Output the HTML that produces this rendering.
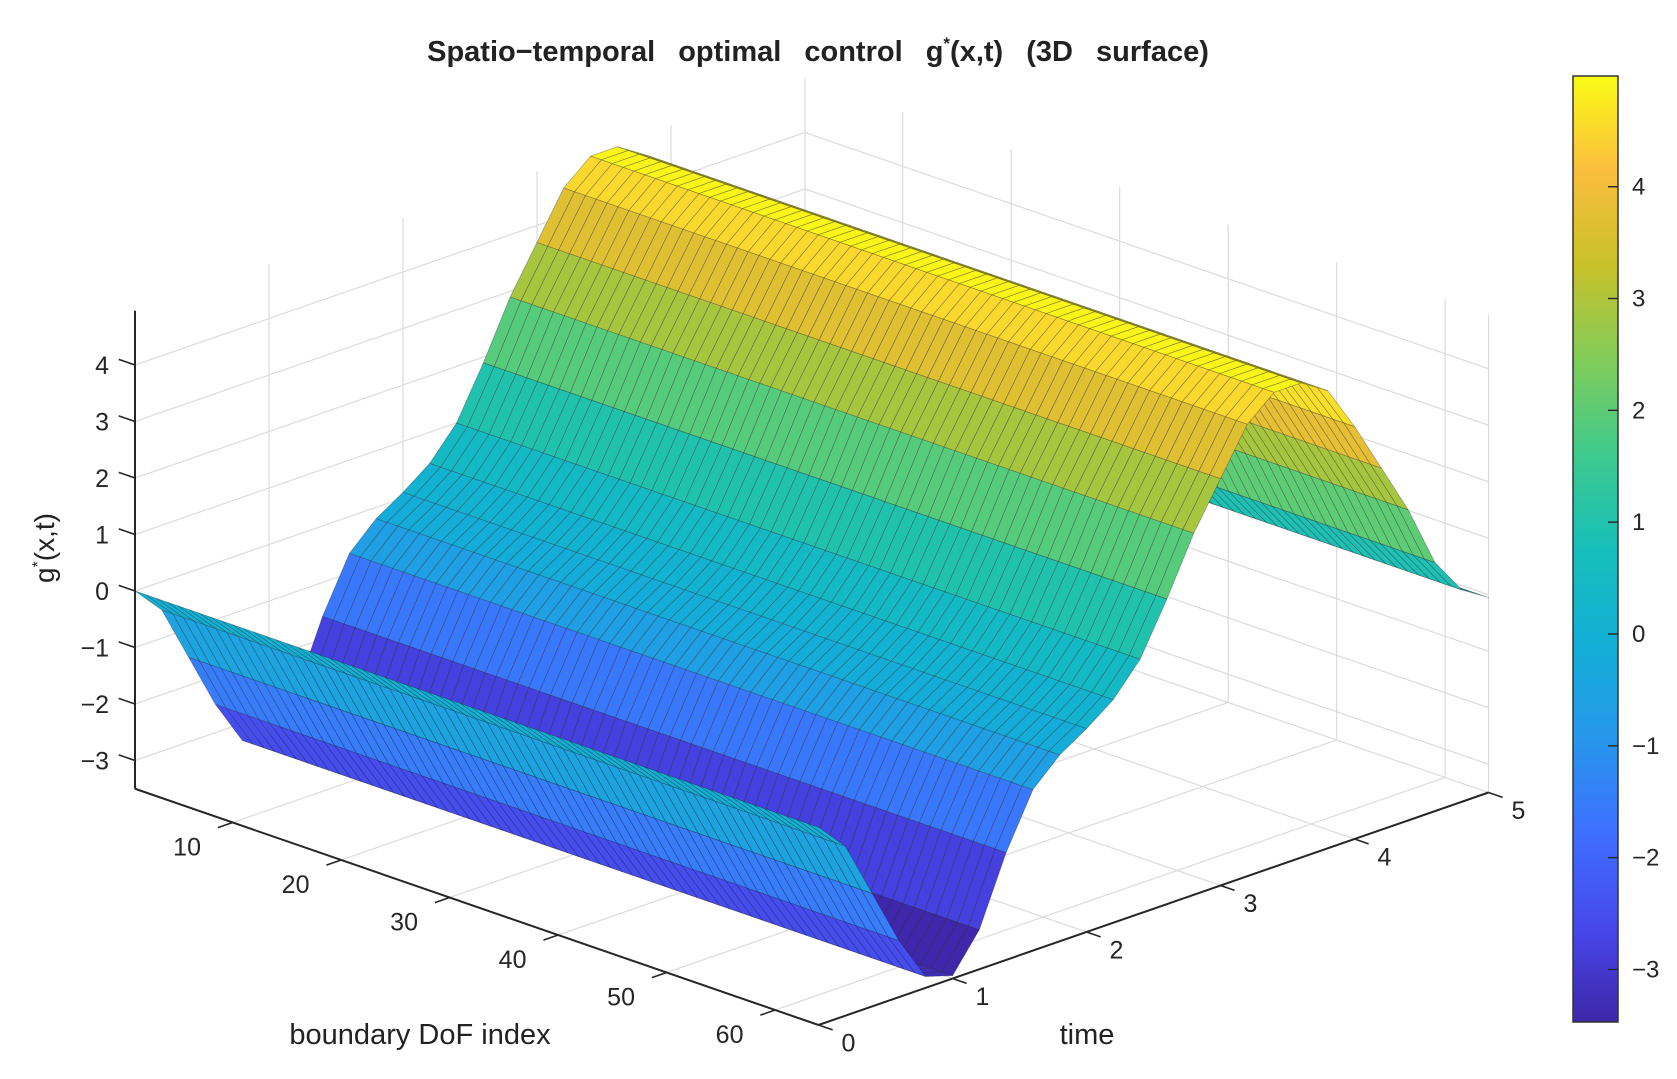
<!DOCTYPE html>
<html><head><meta charset="utf-8"><title>Spatio-temporal optimal control surface</title>
<style>
html,body{margin:0;padding:0;background:#fff;}
svg{display:block;font-family:"Liberation Sans",Arial,sans-serif;}
</style></head>
<body>
<svg id="chart" width="1677" height="1079" viewBox="0 0 1677 1079" xmlns="http://www.w3.org/2000/svg">
  <rect x="0" y="0" width="1677" height="1079" fill="#ffffff"/>
  <g id="grid"></g>
  <g id="surface"></g>
  <g id="axes"></g>
  <g id="cbar"></g>
  <text x="818" y="61" text-anchor="middle" font-size="29" font-weight="bold" fill="#222" word-spacing="15">Spatio−temporal optimal control g<tspan font-size="17" dy="-12">*</tspan><tspan dy="12">(x,t) (3D surface)</tspan></text>
  <text transform="translate(54,548) rotate(-90)" text-anchor="middle" font-size="28" fill="#222">g<tspan font-size="16" dy="-11">*</tspan><tspan dy="11">(x,t)</tspan></text>
  <text x="420" y="1044" text-anchor="middle" font-size="29" fill="#222">boundary DoF index</text>
  <text x="1087" y="1044" text-anchor="middle" font-size="29" fill="#222">time</text>
</svg>
<script>
// ---- data ----
const tGrid = [0,0.2,0.4,0.6,0.8,1.0,1.2,1.4,1.6,1.8,2.0,2.2,2.4,2.6,2.8,3.0,3.2,3.4,3.6,3.8,4.0,4.2,4.4,4.6,4.8,5.0];
const gValues = [0.0,-0.5,-1.5,-2.5,-3.3,-3.45,-2.8,-1.6,-0.65,-0.2,0.1,0.45,1.0,1.9,2.9,3.7,4.5,4.9,4.9,4.6,3.8,2.9,2.0,0.9,0.25,-0.05];
const xCount = 64;
const zTicks = [-3,-2,-1,0,1,2,3,4];
const xTicks = [10,20,30,40,50,60];
const tTicks = [0,1,2,3,4,5];
const cbTicks = [-3,-2,-1,0,1,2,3,4];
const zLim = [-3.5, 4.96];
const cLim = [-3.47, 4.99];

const NS = "http://www.w3.org/2000/svg";
const XU=[10.85,3.75], TU=[134,-46.5], ZU=56.5;
function P(x,t,z){ return [135 + (x-1)*XU[0] + t*TU[0], 591 + (x-1)*XU[1] + t*TU[1] - z*ZU]; }
function depth(x,t,z){ return -7573*x + 612*t - 1008*z; }
const parula = [
 [0.0,[0.2422,0.1504,0.6603]],[0.1,[0.2794,0.2810,0.9240]],[0.2,[0.2440,0.4358,0.9988]],
 [0.3,[0.1540,0.5902,0.9218]],[0.4,[0.0704,0.6871,0.8395]],[0.5,[0.0855,0.7474,0.7286]],
 [0.6,[0.2467,0.7918,0.5565]],[0.7,[0.5044,0.7993,0.3480]],[0.8,[0.7861,0.7588,0.1591]],
 [0.9,[0.9836,0.7456,0.2435]],[1.0,[0.9769,0.9839,0.0805]]];
function cmap(v){
  let f=(v-cLim[0])/(cLim[1]-cLim[0]); f=Math.max(0,Math.min(1,f));
  for(let i=0;i<parula.length-1;i++){
    const a=parula[i],b=parula[i+1];
    if(f<=b[0]){const u=(f-a[0])/(b[0]-a[0]);
      const c=a[1].map((q,k)=>Math.round(255*(q+(b[1][k]-q)*u)));
      return "rgb("+c.join(",")+")";}
  }
  return "rgb(249,251,21)";
}
function mk(tag,attrs,parent){const e=document.createElementNS(NS,tag);for(const k in attrs)e.setAttribute(k,attrs[k]);parent.appendChild(e);return e;}
function line(p,q,stroke,w,parent,name){
  const e=mk("line",{x1:p[0],y1:p[1],x2:q[0],y2:q[1],stroke:stroke,"stroke-width":w},parent);
  
  
  return e;
}
const grid=document.getElementById("grid"), surf=document.getElementById("surface"), axes=document.getElementById("axes"), cb=document.getElementById("cbar");
const gc="#dcdcdc", x1=1, x2=xCount, t1=tGrid[0], t2=tGrid[tGrid.length-1];
zTicks.forEach(z=>{
  line(P(x1,t1,z),P(x1,t2,z),gc,1.2,grid,'z-gridline-left');
  line(P(x1,t2,z),P(x2,t2,z),gc,1.2,grid,'z-gridline-back');
});
tTicks.forEach(t=>{
  line(P(x1,t,zLim[0]),P(x1,t,zLim[1]),gc,1.2,grid,'t-gridline-wall');
  line(P(x1,t,zLim[0]),P(x2,t,zLim[0]),gc,1.2,grid,'t-gridline-floor');
});
xTicks.concat([x2]).forEach(x=>{
  line(P(x,t2,zLim[0]),P(x,t2,zLim[1]),gc,1.2,grid,'x-gridline-wall');
  line(P(x,t1,zLim[0]),P(x,t2,zLim[0]),gc,1.2,grid,'x-gridline-floor');
});
const quads=[];
for(let i=1;i<xCount;i++){
  for(let j=0;j<tGrid.length-1;j++){
    const xa=i, xb=i+1, ta=tGrid[j], tb=tGrid[j+1];
    const za=gValues[j], zb=gValues[j+1];
    const d=depth((xa+xb)/2,(ta+tb)/2,(za+zb)/2);
    quads.push({d:d,pts:[P(xa,ta,za),P(xb,ta,za),P(xb,tb,zb),P(xa,tb,zb)],c:cmap(za)});
  }
}
quads.sort((a,b)=>b.d-a.d);
quads.forEach(q=>{
  const e=mk("polygon",{points:q.pts.map(p=>p[0].toFixed(2)+","+p[1].toFixed(2)).join(" "),fill:q.c,stroke:"rgba(30,30,40,0.38)","stroke-width":"0.7","stroke-linejoin":"round"},surf);
  
  
});
const ac="#262626";
line(P(x1,t1,zLim[0]),P(x1,t1,zLim[1]),ac,2,axes,'z-axis-line');
line(P(x1,t1,zLim[0]),P(x2,t1,zLim[0]),ac,2,axes,'x-axis-line');
line(P(x2,t1,zLim[0]),P(x2,t2,zLim[0]),ac,2,axes,'t-axis-line');
zTicks.forEach(z=>{
  line(P(x1,t1,z),P(x1-1.5,t1,z),ac,1.6,axes,'z-tick');
  const p=P(x1,t1,z);
  const e=mk("text",{x:p[0]-26,y:p[1]+9,"text-anchor":"end","font-size":"25",fill:"#262626"},axes);
  e.textContent=(z<0?"−"+(-z):String(z));
  
  
});
xTicks.forEach(x=>{
  line(P(x,t1,zLim[0]),P(x,t1-0.11,zLim[0]),ac,1.6,axes,'x-tick');
  const p=P(x,t1-0.34,zLim[0]);
  const e=mk("text",{x:p[0],y:p[1]+17,"text-anchor":"middle","font-size":"25",fill:"#262626"},axes);
  e.textContent=String(x);
  
  
});
tTicks.forEach(t=>{
  line(P(x2,t,zLim[0]),P(x2+1.3,t,zLim[0]),ac,1.6,axes,'t-tick');
  const p=P(x2+2.2,t,zLim[0]);
  const e=mk("text",{x:p[0]+6,y:p[1]+18,"text-anchor":"middle","font-size":"25",fill:"#262626"},axes);
  e.textContent=String(t);
  
  
});
const cbX=1573, cbW=45, cbTop=76, cbBot=1022;
function cbY(v){return cbBot-(v-cLim[0])/(cLim[1]-cLim[0])*(cbBot-cbTop);}
const defs=mk("defs",{},cb);
const lg=mk("linearGradient",{id:"parulaGrad",x1:"0",y1:"1",x2:"0",y2:"0"},defs);
parula.forEach(s=>{mk("stop",{offset:s[0],"stop-color":"rgb("+s[1].map(q=>Math.round(q*255)).join(",")+")"},lg);});
const r=mk("rect",{x:cbX,y:cbTop,width:cbW,height:cbBot-cbTop,fill:"url(#parulaGrad)",stroke:"#333","stroke-width":"1.5"},cb);


cbTicks.forEach(v=>{
  const y=cbY(v);
  line([cbX+cbW-10,y],[cbX+cbW,y],"#262626",1.4,cb,'colorbar-tick');
  const e=mk("text",{x:cbX+cbW+14,y:y+8,"font-size":"24",fill:"#262626"},cb);
  e.textContent=(v<0?"−"+(-v):String(v));
  
  
});
</script>
</body></html>
